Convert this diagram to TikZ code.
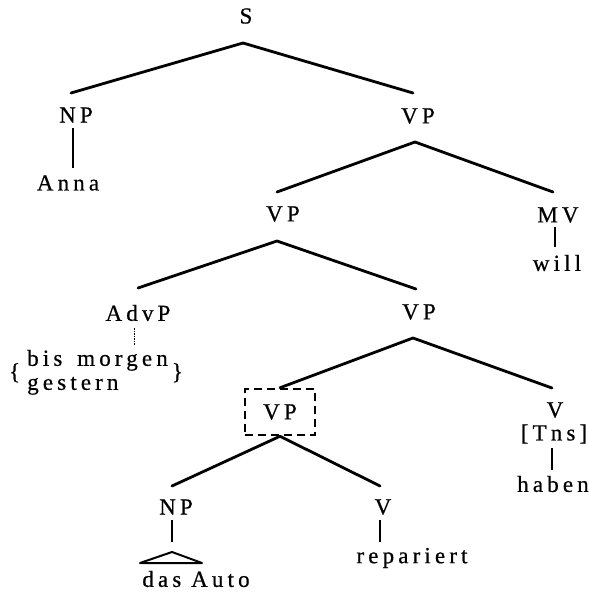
\documentclass[tikz,border=0pt]{standalone}
\usepackage{fontspec}
\setmainfont{Liberation Serif}[LetterSpace=18, FakeBold=0.6]
\begin{document}
\begin{tikzpicture}[x=1pt,y=-1pt,
  lbl/.style={inner sep=0pt, font=\fontsize{23}{24}\selectfont},
  branch/.style={line width=2.8pt, line cap=round, line join=round},
  stem/.style={line width=1.2pt},
  dotstem/.style={line width=0.9pt, dash pattern=on 1.5pt off 1pt}]
\useasboundingbox (0,0) rectangle (589,592);
% nodes
\node[lbl] (S) at (246,16) {S};
\coordinate (Sb) at (243,43);
\coordinate (NP1t) at (71,93);
\node[lbl] (NP1) at (76,115) {NP};
\node[lbl] (Anna) at (68,183) {Anna};
\coordinate (VP1t) at (413,93);
\node[lbl] (VP1) at (418,116) {VP};
\coordinate (VP1b) at (415,142);
\coordinate (VP2t) at (277,192);
\node[lbl] (VP2) at (283,214) {VP};
\coordinate (VP2b) at (277,241);
\coordinate (MVt) at (553,192);
\node[lbl] (MV) at (558,215) {MV};
\node[lbl] (will) at (557,263) {will};
\coordinate (AdvPt) at (138,288);
\node[lbl] (AdvP) at (138,313) {AdvP};
\node[lbl, anchor=west] (adv) at (9,373) {\{\hspace{7pt}\begin{tabular}{@{}l@{}}bis\hspace{5pt} morgen\\gestern\end{tabular}\hspace{4pt}\}};
\coordinate (VP3t) at (416,289);
\node[lbl] (VP3) at (419,312) {VP};
\coordinate (VP3b) at (413,338);
\node[lbl, draw, line width=2.5pt, dash pattern=on 8pt off 5pt,
  minimum width=70pt, minimum height=46pt, text width=50pt, align=center] (VP4) at (280,412) {VP};
\coordinate (V2t) at (552,388);
\node[lbl] (V2) at (555,410) {V};
\node[lbl] (Tns) at (554,434) {[Tns]};
\node[lbl] (haben) at (553,484) {haben};
\coordinate (NP2t) at (172,486);
\node[lbl] (NP2) at (176,507) {NP};
\coordinate (tri) at (172,552);
\node[lbl] (auto) at (196,579) {das Auto};
\coordinate (V3t) at (380,486);
\node[lbl] (V3) at (383,507) {V};
\node[lbl] (rep) at (412,558) {repariert};
% branches
\draw[branch] (NP1t) -- (Sb) -- (VP1t);
\draw[branch] (VP2t) -- (VP1b) -- (MVt);
\draw[branch] (AdvPt) -- (VP2b) -- (VP3t);
\draw[branch] (VP4.north) -- (VP3b) -- (V2t);
\draw[branch] (NP2t) -- (VP4.south) -- (V3t);
% stems
\draw[stem] (73,128) -- (73,168);
\draw[stem] (555,227) -- (555,247);
\draw[dotstem] (134,328) -- (134,345);
\draw[stem] (552,448) -- (552,470);
\draw[stem] (172,520) -- (172,542);
\draw[stem] (380,520) -- (380,542);
% triangle
\draw[line width=2pt, line join=round] (tri) -- ++(30,11) -- ++(-62,0) -- cycle;
\end{tikzpicture}
\end{document}
